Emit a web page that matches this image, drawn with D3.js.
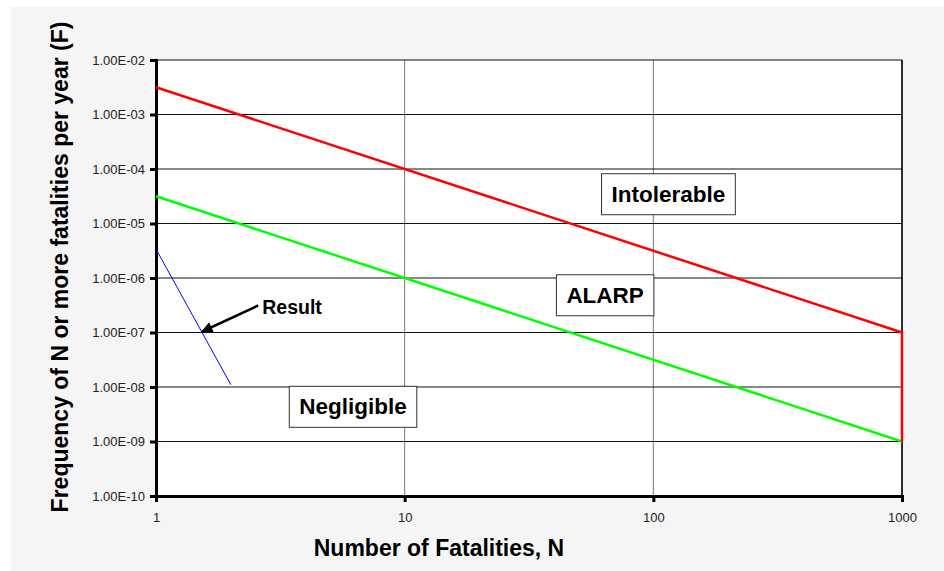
<!DOCTYPE html>
<meta charset="utf-8">
<style>
body { margin: 0; background: #fff; }
text { font-family: "Liberation Sans", Arial, sans-serif; }
</style>
<svg id="mysvg" width="944" height="571"></svg>
<script src="https://cdn.jsdelivr.net/npm/d3@7/dist/d3.min.js"></script>
<script>

// F-N criterion lines and the result curve
var intolerableN = [1, 1000, 1000];
var intolerableF = [3.16e-3, 1e-7, 1e-9];
var negligibleN = [1, 1000];
var negligibleF = [3.16e-5, 1e-9];
var resultN = [1, 2];
var resultF = [3.4e-6, 1.1e-8];

var xTicks = [1, 10, 100, 1000];
var yTicks = [1e-2, 1e-3, 1e-4, 1e-5, 1e-6, 1e-7, 1e-8, 1e-9, 1e-10];

var regionLabels = ["Intolerable", "ALARP", "Negligible"];
var regionN = [115, 64, 6.2];
var regionF = [3.5e-5, 4.9e-7, 4.4e-9];

var svg = d3.select("#mysvg");

svg.append("rect")
	.attr("x", 11).attr("y", 7)
	.attr("width", 933).attr("height", 564)
	.attr("fill", "#f5f5f5");

var pL = 156, pR = 902, pT = 60, pB = 496;

var x = d3.scaleLog().domain([1, 1000]).range([pL, pR]);
var y = d3.scaleLog().domain([1e-10, 1e-2]).range([pB, pT]);

svg.append("rect")
	.attr("x", pL).attr("y", pT)
	.attr("width", pR - pL).attr("height", pB - pT)
	.attr("fill", "#fff");

// gridlines
svg.append("g").selectAll("line")
	.data(xTicks)
	.enter().append("line")
	.attr("x1", function(d){ return x(d); })
	.attr("x2", function(d){ return x(d); })
	.attr("y1", pT).attr("y2", pB)
	.attr("stroke", "#777").attr("stroke-width", 1);

svg.append("g").selectAll("line")
	.data(yTicks)
	.enter().append("line")
	.attr("x1", pL).attr("x2", pR)
	.attr("y1", function(d){ return y(d); })
	.attr("y2", function(d){ return y(d); })
	.attr("stroke", "#111").attr("stroke-width", 1);

svg.append("line")
	.attr("x1", pR).attr("x2", pR)
	.attr("y1", pT).attr("y2", pB)
	.attr("stroke", "#000").attr("stroke-width", 1.5);

// axes
var yAxis = d3.axisLeft(y)
	.tickValues(yTicks)
	.tickSize(6)
	.tickFormat(function(d){ return d.toExponential(2).replace("e-", "E-0").replace("E-010", "E-10"); });

var xAxis = d3.axisBottom(x)
	.tickValues(xTicks)
	.tickSize(6)
	.tickFormat(d3.format("d"));

var gy = svg.append("g").attr("transform", "translate(" + pL + ",0)").call(yAxis);
var gx = svg.append("g").attr("transform", "translate(0," + pB + ")").call(xAxis);

[gx, gy].forEach(function(g){
	g.attr("font-size", 13).attr("font-family", "'Liberation Sans', Arial, sans-serif");
	g.select(".domain").attr("stroke", "#000").attr("stroke-width", 3);
	g.selectAll(".tick line").attr("stroke", "#000").attr("stroke-width", 3);
	g.selectAll(".tick text").attr("fill", "#222");
});
gy.selectAll(".tick text").attr("x", -11);
gx.selectAll(".tick text").attr("y", 17);

// series
var line = d3.line()
	.x(function(d){ return x(d[0]); })
	.y(function(d){ return y(d[1]); });

svg.append("path")
	.datum(d3.zip(negligibleN, negligibleF))
	.attr("d", line)
	.attr("fill", "none").attr("stroke", "#00ff00").attr("stroke-width", 2.5);

svg.append("path")
	.datum(d3.zip(intolerableN, intolerableF))
	.attr("d", line)
	.attr("fill", "none").attr("stroke", "#ff0000").attr("stroke-width", 2.5);

svg.append("path")
	.datum(d3.zip(resultN, resultF))
	.attr("d", line)
	.attr("fill", "none").attr("stroke", "#0000ff").attr("stroke-width", 1);

// region labels in boxes
regionLabels.forEach(function(label, i){
	var g = svg.append("g");
	var t = g.append("text")
		.attr("x", x(regionN[i])).attr("y", y(regionF[i]))
		.attr("text-anchor", "middle")
		.attr("dy", "0.35em")
		.style("font-size", "22.5px")
		.style("font-weight", "bold")
		.text(label);
	var bb = t.node().getBBox();
	g.insert("rect", "text")
		.attr("x", bb.x - 10).attr("y", bb.y - 8)
		.attr("width", bb.width + 20).attr("height", bb.height + 16)
		.attr("fill", "#fff").attr("stroke", "#333").attr("stroke-width", 1);
});

// result annotation with arrow
svg.append("defs").append("marker")
	.attr("id", "arrow")
	.attr("viewBox", "0 0 10 10")
	.attr("refX", 9).attr("refY", 5)
	.attr("markerWidth", 5).attr("markerHeight", 4.5)
	.attr("orient", "auto")
	.append("path").attr("d", "M0,0L10,5L0,10z").attr("fill", "#000");

var arrowTip = [1.52, 1e-7];
svg.append("line")
	.attr("x1", x(arrowTip[0]) + 57).attr("y1", y(arrowTip[1]) - 27)
	.attr("x2", x(arrowTip[0]) + 1).attr("y2", y(arrowTip[1]) - 1)
	.attr("stroke", "#000").attr("stroke-width", 2.5)
	.attr("marker-end", "url(#arrow)");

svg.append("text")
	.attr("x", x(arrowTip[0]) + 61).attr("y", y(arrowTip[1]) - 19)
	.style("font-size", "19.5px")
	.style("font-weight", "bold")
	.text("Result");

// axis titles
svg.append("text")
	.attr("x", 439).attr("y", 556)
	.attr("text-anchor", "middle")
	.style("font-size", "23px")
	.style("font-weight", "bold")
	.text("Number of Fatalities, N");

svg.append("text")
	.attr("transform", "translate(68,267) rotate(-90)")
	.attr("text-anchor", "middle")
	.style("font-size", "23px")
	.style("font-weight", "bold")
	.text("Frequency of N or more fatalities per year (F)");

</script>
